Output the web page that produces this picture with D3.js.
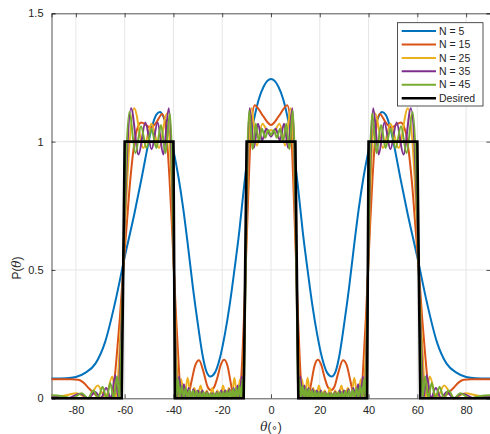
<!DOCTYPE html>
<html>
<head>
<meta charset="utf-8">
<script src="https://cdn.jsdelivr.net/npm/d3@7"></script>
<style>
  body { margin: 0; background: #fff; }
  svg { display: block; font-family: "Liberation Sans", Arial, Helvetica, sans-serif; }
</style>
</head>
<body>
<div id="chart"></div>
<script>
// Values. The pattern is mirror symmetric about theta = 0,
// so each series below holds the theta >= 0 half as [theta (deg), P].
const seriesNames = ['N = 5', 'N = 15', 'N = 25', 'N = 35', 'N = 45', 'Desired'];
const seriesColors = ['#0072BD', '#D95319', '#EDB120', '#7E2F8E', '#77AC30', '#000000'];

const p5 = [[0,1.244],[3,1.215],[5,1.165],[7,1.085],[9,0.98],[11,0.83],[13,0.65],[15,0.5],[17,0.36],
  [19,0.245],[21,0.155],[23,0.1],[24.9,0.085],[26.5,0.105],[28,0.165],[30,0.29],[32,0.43],[34,0.59],
  [36,0.74],[38,0.865],[40,0.965],[42,1.04],[44,1.095],[45.5,1.115],[47,1.105],[49,1.05],[51,0.96],
  [53,0.86],[56,0.72],[60,0.55],[64,0.37],[68,0.22],[72,0.135],[76,0.1],[80,0.083],[84,0.078],[90,0.077]];

const p15 = [[0,1.065],[3.3,1.1],[6.65,1.142],[8,1.075],[9,0.88],[9.7,0.69],[10.4,0.5],[11.1,0.31],
  [11.8,0.15],[12.6,0.03],[13.2,0],[14.2,0.012],[15.2,0],[16.5,0.06],[17.8,0.125],[19.2,0.15],[20.6,0.13],
  [22,0.08],[23.5,0.04],[24.7,0.032],[26,0.045],[27.6,0.1],[29.5,0.148],[31,0.13],[32.5,0.07],[33.8,0.015],
  [34.8,0],[35.8,0.012],[36.85,0],[37.96,0.15],[38.88,0.31],[39.8,0.5],[40.72,0.69],[41.64,0.86],[43,1.04],
  [44.6,1.108],[47,1.075],[49.3,1.055],[53.2,1.075],[55,1.045],[56.5,0.96],[57.8,0.84],[59.2,0.67],
  [60.6,0.5],[62,0.31],[63.4,0.15],[64.4,0.05],[65.2,0],[67.8,0.015],[70.4,0],[72,0.014],[74.6,0.038],
  [77,0.062],[79,0.072],[82,0.074],[90,0.074]];

const p25 = [[0,1.045],[1.2,1.04],[3.5,1.07],[5.8,0.985],[8.12,1.13],[9.53,0.86],[9.96,0.69],[10.4,0.5],
  [10.84,0.31],[11.27,0.15],[11.79,0],[12.68,0.075],[13.84,0],[15,0.08],[16.15,0],[17.3,0.04],[18.48,0],
  [19.65,0.05],[20.83,0],[22,0.03],[23.05,0],[24.1,0.04],[25.2,0],[26.33,0.03],[27.6,0],[28.87,0.05],
  [30.18,0],[31.48,0.04],[32.82,0],[34.16,0.08],[35.5,0],[36.87,0.075],[38.01,0],[38.68,0.15],[39.24,0.31],
  [39.8,0.5],[40.36,0.69],[40.92,0.86],[42.73,1.11],[45.9,0.975],[49,1.07],[52.3,0.975],[56.1,1.13],
  [58.88,0.86],[59.74,0.69],[60.6,0.5],[61.46,0.31],[62.32,0.15],[63.35,0],[65.1,0.085],[67.9,0],
  [71,0.05],[75,0],[79.7,0.02],[85,0.01],[90,0.008]];

const p35 = [[0,1.02],[1.95,1.05],[3.65,1.005],[5.35,1.07],[7.05,0.975],[8.76,1.13],[9.77,0.86],[10.09,0.69],
  [10.4,0.5],[10.71,0.31],[11.03,0.15],[11.4,0],[12.04,0.085],[12.87,0],[13.7,0.05],[14.53,0],[15.36,0.04],
  [16.2,0],[17.04,0.035],[17.88,0],[18.73,0.03],[19.58,0],[20.44,0.03],[21.3,0],[22.17,0.025],[23.1,0],
  [24.1,0.02],[25.2,0],[26.26,0.025],[27.17,0],[28.08,0.03],[29,0],[29.93,0.03],[30.87,0],[31.81,0.035],
  [32.77,0],[33.73,0.04],[34.72,0],[35.71,0.055],[36.7,0],[37.69,0.085],[38.51,0],[39,0.15],[39.4,0.31],
  [39.8,0.5],[40.2,0.69],[40.6,0.86],[41.91,1.13],[44.15,0.95],[46.5,1.075],[48.95,0.97],[51.5,1.075],
  [54.3,0.95],[57.37,1.13],[59.37,0.86],[59.98,0.69],[60.6,0.5],[61.22,0.31],[61.83,0.15],[62.57,0],
  [63.83,0.09],[65.6,0],[67.6,0.04],[69.7,0],[72.1,0.025],[74.9,0],[78.3,0.018],[83.3,0],[87,0.005],[90,0.006]];

const p45 = [[0,1.025],[1.15,1.045],[2.4,1.015],[3.7,1.05],[4.95,1],[6.25,1.07],[7.55,0.97],[8.9,1.12],
  [9.9,0.86],[10.15,0.69],[10.4,0.5],[10.65,0.31],[10.9,0.15],[11.2,0],[11.68,0.075],[12.3,0],[12.95,0.05],
  [13.6,0],[14.25,0.04],[14.9,0],[15.55,0.035],[16.2,0],[16.85,0.03],[17.5,0],[18.15,0.028],[18.82,0],
  [19.5,0.025],[20.15,0],[20.8,0.025],[21.47,0],[22.15,0.022],[22.82,0],[23.5,0.02],[24.16,0],[24.82,0.02],
  [25.52,0],[26.22,0.022],[26.93,0],[27.64,0.025],[28.35,0],[29.07,0.025],[29.8,0],[30.52,0.028],[31.26,0],
  [32,0.03],[32.75,0],[33.5,0.032],[34.27,0],[35.03,0.04],[35.8,0],[36.58,0.05],[37.37,0],[38.16,0.075],
  [38.8,0],[39.17,0.15],[39.49,0.31],[39.8,0.5],[40.11,0.69],[40.43,0.86],[41.45,1.11],[43.25,0.955],
  [45.1,1.065],[47,0.975],[49,1.05],[51.1,0.975],[53.3,1.06],[55.6,0.955],[58.05,1.115],[59.64,0.86],
  [60.12,0.69],[60.6,0.5],[61.08,0.31],[61.56,0.15],[62.14,0],[63.12,0.085],[64.5,0],[65.9,0.06],[67.4,0],
  [69.1,0.045],[70.9,0],[72.8,0.03],[75.1,0],[77.6,0.02],[81.5,0],[86,0.009],[90,0.012]];

// desired pattern, full range
const desired = [[-90,0],[-61.2,0],[-60,1],[-40,1],[-39.4,0],[-11.2,0],[-10,1],[10,1],[11.2,0],
  [39.4,0],[40,1],[60,1],[61.2,0],[90,0]];

const xTicks = [-80, -60, -40, -20, 0, 20, 40, 60, 80];
const yTicks = [0, 0.5, 1, 1.5];

// mirror a theta >= 0 half onto the negative side
function mirror(half) {
  const left = half.filter(d => d[0] > 0).map(d => [-d[0], d[1]]).reverse();
  return left.concat(half);
}

const W = 490, H = 434;
const plot = { left: 51.5, right: 490.5, top: 13.3, bottom: 398.3 };
const axisColor = '#262626';

const svg = d3.select('#chart').append('svg')
  .attr('width', W)
  .attr('height', H);

const x = d3.scaleLinear().domain([-90, 90]).range([plot.left, plot.right]);
const y = d3.scaleLinear().domain([0, 1.5]).range([plot.bottom, plot.top]);

// grid
const grid = svg.append('g').attr('stroke', '#dfdfdf').attr('stroke-width', 0.8);
grid.selectAll('.vg').data(xTicks).enter().append('line')
  .attr('x1', d => x(d)).attr('x2', d => x(d))
  .attr('y1', plot.top).attr('y2', plot.bottom);
grid.selectAll('.hg').data(yTicks.filter(d => d > 0 && d < 1.5)).enter().append('line')
  .attr('x1', plot.left).attr('x2', plot.right)
  .attr('y1', d => y(d)).attr('y2', d => y(d));

// axes (ticks point inwards, MATLAB style)
const xAxis = d3.axisBottom(x).tickValues(xTicks).tickSize(-4).tickPadding(8).tickFormat(d => String(d));
const yAxis = d3.axisLeft(y).tickValues(yTicks).tickSize(-4).tickPadding(8).tickFormat(d => String(d));
const xAxisTop = d3.axisTop(x).tickValues(xTicks).tickSize(-4).tickFormat('');
const yAxisRight = d3.axisRight(y).tickValues(yTicks).tickSize(-4).tickFormat('');

function styleAxis(g) {
  g.select('.domain').attr('stroke', axisColor).attr('stroke-width', 0.8);
  g.selectAll('.tick line').attr('stroke', axisColor).attr('stroke-width', 0.8);
  g.selectAll('.tick text').attr('fill', axisColor).style('font-size', '11px')
    .style('font-family', '"Liberation Sans", Arial, sans-serif');
}

svg.append('g').attr('transform', `translate(0,${plot.bottom})`).call(xAxis).call(styleAxis);
svg.append('g').attr('transform', `translate(${plot.left},0)`).call(yAxis).call(styleAxis);
svg.append('g').attr('transform', `translate(0,${plot.top})`).call(xAxisTop).call(styleAxis);
svg.append('g').attr('transform', `translate(${plot.right},0)`).call(yAxisRight).call(styleAxis);

// curves
const line = d3.line()
  .x(d => x(d[0]))
  .y(d => y(d[1]))
  .curve(d3.curveMonotoneX);

const curves = [p5, p15, p25, p35, p45].map(mirror);
curves.forEach((c, i) => {
  svg.append('path')
    .datum(c)
    .attr('fill', 'none')
    .attr('stroke', seriesColors[i])
    .attr('stroke-width', 2)
    .attr('stroke-linejoin', 'round')
    .attr('d', line);
});

svg.append('path')
  .datum(desired)
  .attr('fill', 'none')
  .attr('stroke', '#000')
  .attr('stroke-width', 2.6)
  .attr('d', d3.line().x(d => x(d[0])).y(d => y(d[1])));

// axis labels
const xl = svg.append('text')
  .attr('x', 271).attr('y', 431)
  .attr('text-anchor', 'middle')
  .attr('fill', axisColor)
  .style('font-size', '12px');
xl.append('tspan').attr('font-style', 'italic').attr('font-family', '"DejaVu Serif", serif').text('θ');
xl.append('tspan').text('(');
xl.append('tspan').attr('font-family', '"DejaVu Sans", sans-serif').style('font-size', '10px').text('∘');
xl.append('tspan').text(')');

const yl = svg.append('text')
  .attr('transform', 'translate(21,268) rotate(-90)')
  .attr('text-anchor', 'middle')
  .attr('fill', axisColor)
  .style('font-size', '12px');
yl.append('tspan').text('P(');
yl.append('tspan').attr('font-style', 'italic').attr('font-family', '"DejaVu Serif", serif').text('θ');
yl.append('tspan').text(')');

// legend
const legend = svg.append('g').attr('transform', 'translate(397.5,22.7)');
legend.append('rect')
  .attr('width', 85.5).attr('height', 83.3)
  .attr('fill', '#fff')
  .attr('stroke', axisColor).attr('stroke-width', 0.8);
seriesNames.forEach((name, i) => {
  const yy = 8.3 + i * 13.45;
  legend.append('line')
    .attr('x1', 4.2).attr('x2', 38.5)
    .attr('y1', yy).attr('y2', yy)
    .attr('stroke', seriesColors[i])
    .attr('stroke-width', i === 5 ? 2.6 : 2);
  legend.append('text')
    .attr('x', 41.5).attr('y', yy)
    .attr('dy', '0.35em')
    .attr('fill', axisColor)
    .style('font-size', '10.5px')
    .text(name);
});
</script>
</body>
</html>
